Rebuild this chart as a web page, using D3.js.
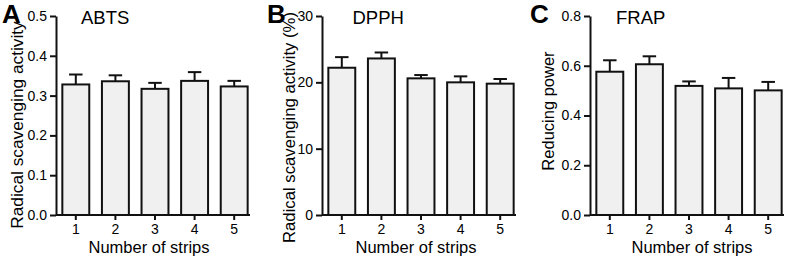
<!DOCTYPE html>
<html>
<head>
<meta charset="utf-8">
<script src="https://cdn.jsdelivr.net/npm/d3@7"></script>
<style>
  body { margin: 0; background: #fff; }
  text { font-family: Arial, "Liberation Sans", sans-serif; fill: #000; }
</style>
</head>
<body>
<div id="chart"></div>
<script>
// categories (number of strips)
var strips = ["1", "2", "3", "4", "5"];

// ABTS radical scavenging activity, mean and upper error (mean + SD)
var abtsMean = [0.328, 0.336, 0.317, 0.337, 0.323];
var abtsErr = [0.353, 0.351, 0.332, 0.359, 0.337];

// DPPH radical scavenging activity (%)
var dpphMean = [22.2, 23.6, 20.6, 20.0, 19.8];
var dpphErr = [23.8, 24.5, 21.1, 20.9, 20.5];

// FRAP reducing power
var frapMean = [0.576, 0.606, 0.519, 0.509, 0.501];
var frapErr = [0.622, 0.638, 0.537, 0.551, 0.535];

// y axis tick labels
var abtsTicks = [0, 0.1, 0.2, 0.3, 0.4, 0.5];
var dpphTicks = [0, 10, 20, 30];
var frapTicks = [0, 0.2, 0.4, 0.6, 0.8];

var svgWidth = 790;
var svgHeight = 260;

var svg = d3.select("#chart")
  .append("svg")
  .attr("width", svgWidth)
  .attr("height", svgHeight);

// layout of the three panels
var panels = [
  { letter: "A", title: "ABTS", ylabel: "Radical scavenging activity",
    mean: abtsMean, err: abtsErr, ticks: abtsTicks, max: 0.5, fmt: d3.format(".1f"),
    left: 56, letterX: 2, titleDx: 25, ylabX: 22.5, ylabY: 125, ylabSize: 17.3, xlabDx: 93 },
  { letter: "B", title: "DPPH", ylabel: "Radical scavenging activity (%)",
    mean: dpphMean, err: dpphErr, ticks: dpphTicks, max: 30, fmt: d3.format("d"),
    left: 322, letterX: 267, titleDx: 30.5, ylabX: 294.5, ylabY: 127.5, ylabSize: 16.7, xlabDx: 94 },
  { letter: "C", title: "FRAP", ylabel: "Reducing power",
    mean: frapMean, err: frapErr, ticks: frapTicks, max: 0.8, fmt: d3.format(".1f"),
    left: 590, letterX: 530, titleDx: 26, ylabX: 553.5, ylabY: 111, ylabSize: 16.5, xlabDx: 102 }
];

var plotTop = 16;
var plotBottom = 215;

panels.forEach(function (p) {
  var g = svg.append("g");

  var xScale = d3.scaleBand()
    .domain(strips)
    .range([p.left, p.left + 198])
    .paddingInner(0.32)
    .paddingOuter(0.16);

  var yScale = d3.scaleLinear()
    .domain([0, p.max])
    .range([plotBottom, plotTop]);

  // bars
  g.selectAll("rect.bar")
    .data(p.mean)
    .enter()
    .append("rect")
    .attr("class", "bar")
    .attr("x", (d, i) => xScale(strips[i]))
    .attr("y", (d) => yScale(d))
    .attr("width", xScale.bandwidth())
    .attr("height", (d) => yScale(0) - yScale(d))
    .attr("fill", "#f0f0f0")
    .attr("stroke", "#111")
    .attr("stroke-width", 2);

  // upper error bars
  var capW = xScale.bandwidth() / 2;
  var errG = g.selectAll("g.err")
    .data(p.err)
    .enter()
    .append("g")
    .attr("class", "err");

  errG.append("line")
    .attr("x1", (d, i) => xScale(strips[i]) + xScale.bandwidth() / 2)
    .attr("x2", (d, i) => xScale(strips[i]) + xScale.bandwidth() / 2)
    .attr("y1", (d, i) => yScale(p.mean[i]))
    .attr("y2", (d) => yScale(d))
    .attr("stroke", "#111")
    .attr("stroke-width", 2);

  errG.append("line")
    .attr("x1", (d, i) => xScale(strips[i]) + xScale.bandwidth() / 2 - capW / 2)
    .attr("x2", (d, i) => xScale(strips[i]) + xScale.bandwidth() / 2 + capW / 2)
    .attr("y1", (d) => yScale(d))
    .attr("y2", (d) => yScale(d))
    .attr("stroke", "#111")
    .attr("stroke-width", 2);

  // axes
  var leftAxis = d3.axisLeft(yScale)
    .tickValues(p.ticks)
    .tickFormat(p.fmt)
    .tickSize(6)
    .tickSizeOuter(0)
    .tickPadding(3);

  var yAxis = g.append("g")
    .attr("transform", `translate(${p.left}, 0)`)
    .call(leftAxis);

  var bottomAxis = d3.axisBottom(xScale)
    .tickSize(5)
    .tickSizeOuter(0)
    .tickPadding(4);

  var xAxis = g.append("g")
    .attr("transform", `translate(0, ${plotBottom})`)
    .call(bottomAxis);

  xAxis.select(".domain")
    .attr("d", `M${p.left},0H${p.left + 194}`);

  [yAxis, xAxis].forEach(function (ax) {
    ax.select(".domain").attr("stroke", "#111").attr("stroke-width", 2);
    ax.selectAll(".tick line").attr("stroke", "#111").attr("stroke-width", 2);
    ax.selectAll(".tick text")
      .style("font-family", "Arial, 'Liberation Sans', sans-serif")
      .style("font-size", "14px")
      .attr("fill", "#111");
  });

  // panel letter
  g.append("text")
    .attr("x", p.letterX)
    .attr("y", 22.5)
    .style("font-size", "26px")
    .style("font-weight", "bold")
    .text(p.letter);

  // title
  g.append("text")
    .attr("x", p.left + p.titleDx)
    .attr("y", 24)
    .style("font-size", "18.5px")
    .text(p.title);

  // y label
  g.append("text")
    .attr("transform", `translate(${p.ylabX}, ${p.ylabY}) rotate(-90)`)
    .style("text-anchor", "middle")
    .style("font-size", p.ylabSize + "px")
    .text(p.ylabel);

  // x label
  g.append("text")
    .attr("x", p.left + p.xlabDx)
    .attr("y", 253)
    .style("text-anchor", "middle")
    .style("font-size", "16.5px")
    .text("Number of strips");
});
</script>
</body>
</html>
